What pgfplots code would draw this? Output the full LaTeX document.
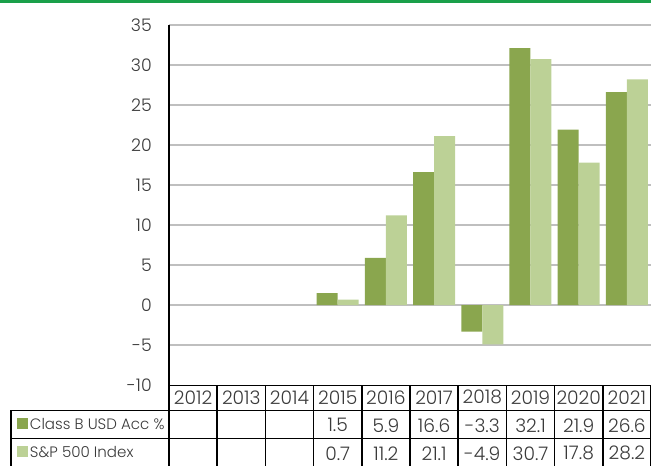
\documentclass[border=0pt]{standalone}
\usepackage{fontspec}
\setmainfont{Poppins}[UprightFont={* Light}]
\usepackage{pgfplots}
\pgfplotsset{compat=1.18}
\definecolor{darkg}{HTML}{8AA64E}
\definecolor{lightg}{HTML}{BCD196}
\definecolor{topg}{HTML}{1AA04A}
\definecolor{txt}{HTML}{3A3A3A}
\definecolor{grid}{HTML}{C4C4C4}
\begin{document}
\begin{tikzpicture}[font=\fontsize{11.3}{13}\selectfont]
\path[use as bounding box] (-126.75pt,-59.78pt) rectangle (361.5pt,288.98pt);
\begin{axis}[
  scale only axis,
  width=361.5pt, height=270.4pt,
  xmin=-0.5, xmax=9.5,
  ymin=-10, ymax=35,
  ytick={-10,-5,0,5,10,15,20,25,30,35},
  yticklabels={{-10},{-5},0,5,10,15,20,25,30,35},
  xtick=\empty,
  axis y line*=left,
  axis x line*=bottom,
  axis line style={black, line width=1.1pt, -},
  ymajorgrids,
  grid style={grid, line width=1.2pt},
  major tick length=0pt,
  /pgf/number format/assume math mode=true,
  yticklabel style={anchor=east, inner sep=0pt, xshift=-12.75pt, text=txt, font=\fontsize{13}{15}\selectfont},
  ybar=0pt, bar width=15.75pt,
  clip=false,
]
\addplot[fill=darkg, draw=none] coordinates {(3,1.5) (4,5.9) (5,16.6) (6,-3.3) (7,32.1) (8,21.9) (9,26.6)};
\addplot[fill=lightg, draw=none] coordinates {(3,0.7) (4,11.2) (5,21.1) (6,-4.9) (7,30.7) (8,17.8) (9,28.2)};
\end{axis}
% top green rule
\draw[topg, line width=2pt] (-126.75pt,288pt) -- (361.5pt,288pt);
% table lines
\draw[black, line width=1.1pt] (0,0) -- (361.5pt,0);
\draw[black, line width=1.1pt] (-118.5pt,-18.75pt) -- (361.5pt,-18.75pt);
\draw[black, line width=1.1pt] (-118.5pt,-39.75pt) -- (361.5pt,-39.75pt);
\draw[black, line width=1.1pt] (-118.5pt,-18.75pt) -- (-118.5pt,-62pt);
\foreach \k in {0,...,10} {
  \draw[black, line width=1.1pt] ({\k*36.15pt},0) -- ({\k*36.15pt},-62pt);
}
% header
\foreach \k/\yr in {0/2012,1/2013,2/2014,3/2015,4/2016,5/2017,6/2018,7/2019,8/2020,9/2021} {
  \node[text=txt, inner sep=0pt, font=\fontsize{14}{16}\selectfont] at ({(\k+0.5)*36.15pt},-9pt) {\yr};
}
% row labels
\fill[darkg] (-114pt,-24.5pt) rectangle (-106pt,-32.5pt);
\node[text=txt, anchor=west, inner sep=0pt] at (-104.5pt,-29pt) {Class B USD Acc \%};
\fill[lightg] (-114pt,-45.5pt) rectangle (-106pt,-53.5pt);
\node[text=txt, anchor=west, inner sep=0pt] at (-104.5pt,-50pt) {S\&P 500 Index};
% row values
\foreach \k/\v in {3/1.5,4/5.9,5/16.6,6/-3.3,7/32.1,8/21.9,9/26.6} {
  \node[text=txt, inner sep=0pt, font=\fontsize{14}{16}\selectfont] at ({(\k+0.5)*36.15pt},-30pt) {\v};
}
\foreach \k/\v in {3/0.7,4/11.2,5/21.1,6/-4.9,7/30.7,8/17.8,9/28.2} {
  \node[text=txt, inner sep=0pt, font=\fontsize{14}{16}\selectfont] at ({(\k+0.5)*36.15pt},-51pt) {\v};
}
\end{tikzpicture}
\end{document}
